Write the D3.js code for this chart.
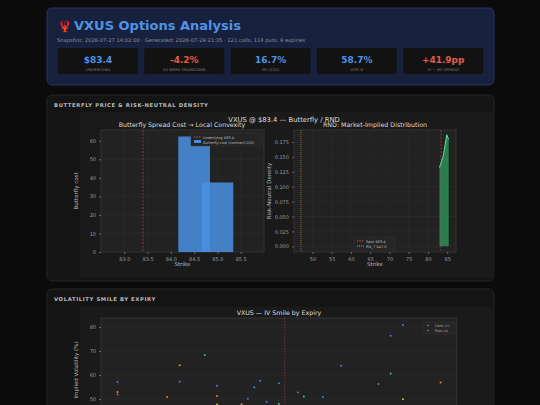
<!DOCTYPE html>
<html><head><meta charset="utf-8">
<script src="https://cdn.jsdelivr.net/npm/d3@7"></script>
<style>body{margin:0;background:#0b0b0c;font-family:"DejaVu Sans",sans-serif}</style>
</head><body><svg width="540" height="405"></svg>
<script>
const stats = [["$83.4","UNDERLYING","#4f93e6"],["-4.2%","52-WEEK DRAWDOWN","#e05a4a"],["16.7%","HV (21D)","#4f93e6"],["58.7%","ATM IV","#4f93e6"],["+41.9pp","IV − HV SPREAD","#e05a4a"]];
const flyStrikes = [84.5, 85.0];
const flyCost = [62.3, 37.5];
const rndStrike = [83.0, 84.0, 84.9, 85.4];
const rndDensity = [0.132, 0.152, 0.187, 0.179];
const smileStrike = [43.9,43.9,43.9,55.6,58.6,58.6,64.5,67.4,67.4,67.4,73.2,74.7,76.2,77.6,79.1,82.0,82.0,86.5,87.9,92.4,96.7,105.5,108.4,108.4,111.3,111.3,120.2];
const smileIV = [57.1,52.9,51.9,50.8,64.1,57.2,68.3,55.5,51.3,47.7,47.8,50.1,54.9,57.6,48.9,56.6,48.0,52.7,51.0,50.8,63.9,56.2,76.4,60.6,80.8,49.9,56.9];
const smileExp = [0,1,3,1,1,0,2,0,1,4,1,0,0,0,0,0,2,0,2,0,0,0,0,2,0,4,1];
const expColors = ["#4a7fd0","#e08a3a","#3fbf7f","#e0504a","#c8c040"];

const svg = d3.select("svg");
const grey = "#9a9a9a";

// header card
svg.append("rect").attr("x",47).attr("y",8).attr("width",447).attr("height",77).attr("rx",5)
  .attr("fill","#17213d").attr("stroke","#263560");
svg.append("text").attr("x",58).attr("y",30).attr("fill","#d9402f").attr("font-size",11).text("🦞");
svg.append("text").attr("x",74).attr("y",30).attr("fill","#4f93e6").attr("font-size",13).attr("font-weight","bold").text("VXUS Options Analysis");
svg.append("text").attr("x",57).attr("y",42).attr("fill","#8a8f9a").attr("font-size",5.2)
  .text("Snapshot: 2026-07-27 14:02:00 · Generated: 2026-07-29 21:35 · 121 calls, 114 puts, 9 expiries");
stats.forEach((s,i)=>{
  const x = 58 + i*86.3;
  svg.append("rect").attr("x",x).attr("y",48).attr("width",80).attr("height",26).attr("rx",2).attr("fill","#121212");
  svg.append("text").attr("x",x+40).attr("y",63).attr("text-anchor","middle").attr("fill",s[2]).attr("font-size",9).attr("font-weight","bold").text(s[0]);
  svg.append("text").attr("x",x+40).attr("y",70.5).attr("text-anchor","middle").attr("fill","#777").attr("font-size",3.8).text(s[1]);
});

// section cards
function card(y,h,title){
  svg.append("rect").attr("x",47).attr("y",y).attr("width",447).attr("height",h).attr("rx",5).attr("fill","#141414").attr("stroke","#262626");
  svg.append("text").attr("x",54).attr("y",y+12).attr("fill","#bbb").attr("font-size",5.3).attr("font-weight","bold").attr("letter-spacing",0.6).text(title);
}
card(95,186,"BUTTERFLY PRICE & RISK-NEUTRAL DENSITY");
card(289,140,"VOLATILITY SMILE BY EXPIRY");
svg.append("rect").attr("x",80).attr("y",112).attr("width",414).attr("height",166).attr("fill","#1a1a1a");
svg.append("rect").attr("x",80).attr("y",307).attr("width",414).attr("height",120).attr("fill","#1a1a1a");

function panel(x0,x1,y0,y1,xs,ys,xt,yt,xfmt,yfmt,xl,yl,ylY){
  const g = svg.append("g");
  g.append("rect").attr("x",x0).attr("y",y0).attr("width",x1-x0).attr("height",y1-y0).attr("fill","#222").attr("stroke","#333");
  xt.forEach(t=>g.append("line").attr("x1",xs(t)).attr("x2",xs(t)).attr("y1",y0).attr("y2",y1).attr("stroke","#2e2e2e").attr("stroke-width",0.5));
  yt.forEach(t=>g.append("line").attr("y1",ys(t)).attr("y2",ys(t)).attr("x1",x0).attr("x2",x1).attr("stroke","#2e2e2e").attr("stroke-width",0.5));
  const ax = g.append("g").attr("transform",`translate(0,${y1})`).call(d3.axisBottom(xs).tickValues(xt).tickFormat(xfmt).tickSize(2));
  const ay = g.append("g").attr("transform",`translate(${x0},0)`).call(d3.axisLeft(ys).tickValues(yt).tickFormat(yfmt).tickSize(2));
  [ax,ay].forEach(a=>{a.select(".domain").remove();a.selectAll("line").attr("stroke","#666");a.selectAll("text").attr("fill",grey).attr("font-size",5).attr("font-family","DejaVu Sans");});
  if(xl) g.append("text").attr("x",(x0+x1)/2).attr("y",y1+14).attr("text-anchor","middle").attr("fill","#bbb").attr("font-size",5.5).text(xl);
  if(yl) g.append("text").attr("transform",`translate(${x0-23},${ylY || (y0+y1)/2}) rotate(-90)`).attr("text-anchor","middle").attr("fill","#bbb").attr("font-size",5.5).text(yl);
  return g;
}

// suptitle
svg.append("text").attr("x",284).attr("y",122).attr("text-anchor","middle").attr("fill","#ddd").attr("font-size",6.8).text("VXUS @ $83.4 — Butterfly / RND");

// butterfly
const bx = d3.scaleLinear().domain([82.5,86.0]).range([101,264]);
const by = d3.scaleLinear().domain([0,65.8]).range([252,130]);
svg.append("text").attr("x",182).attr("y",127).attr("text-anchor","middle").attr("fill","#ddd").attr("font-size",6.3).text("Butterfly Spread Cost → Local Convexity");
const g1 = panel(101,264,130,252,bx,by,[83,83.5,84,84.5,85,85.5],[0,10,20,30,40,50,60],d3.format(".1f"),d3.format("d"),"Strike","Butterfly cost");
g1.selectAll(".bar").data(flyStrikes).join("rect")
  .attr("x",d=>bx(d-0.34)).attr("width",bx(0.68)-bx(0))
  .attr("y",(d,i)=>by(flyCost[i])).attr("height",(d,i)=>by(0)-by(flyCost[i]))
  .attr("fill","#4a90e2").attr("fill-opacity",0.85);
g1.append("line").attr("x1",bx(83.4)).attr("x2",bx(83.4)).attr("y1",130).attr("y2",252).attr("stroke","#c0504a").attr("stroke-dasharray","2,1.5").attr("stroke-width",0.6);
g1.append("rect").attr("x",191).attr("y",133).attr("width",70).attr("height",13).attr("fill","#252525").attr("stroke","#3a3a3a").attr("stroke-width",0.4);
g1.append("line").attr("x1",194).attr("x2",201).attr("y1",137).attr("y2",137).attr("stroke","#c0504a").attr("stroke-dasharray","1.5,1");
g1.append("rect").attr("x",194).attr("y",140).attr("width",7).attr("height",3).attr("fill","#4a90e2");
g1.append("text").attr("x",203).attr("y",138.5).attr("fill","#bbb").attr("font-size",3.6).text("Underlying $83.4");
g1.append("text").attr("x",203).attr("y",143.5).attr("fill","#bbb").attr("font-size",3.6).text("Butterfly cost (contract/100)");

// RND
const rx = d3.scaleLinear().domain([45.2,87.3]).range([294,456]);
const ry = d3.scaleLinear().domain([-0.0095,0.195]).range([252,130]);
svg.append("text").attr("x",375).attr("y",127).attr("text-anchor","middle").attr("fill","#ddd").attr("font-size",6.3).text("RND: Market-Implied Distribution");
const g2 = panel(294,456,130,252,rx,ry,[50,55,60,65,70,75,80,85],[0,0.025,0.05,0.075,0.1,0.125,0.15,0.175],d3.format("d"),d3.format(".3f"),"Strike","Risk-Neutral Density");
const rnd = rndStrike.map((s,i)=>[s,rndDensity[i]]);
g2.append("path").datum(rnd).attr("d",d3.area().x(d=>rx(d[0])).y0(ry(0)).y1(d=>ry(d[1]))).attr("fill","#2e9e5e").attr("fill-opacity",0.75);
g2.append("path").datum(rnd).attr("d",d3.line().x(d=>rx(d[0])).y(d=>ry(d[1]))).attr("fill","none").attr("stroke","#5fe0a0").attr("stroke-width",1);
g2.append("line").attr("x1",rx(83.4)).attr("x2",rx(83.4)).attr("y1",130).attr("y2",252).attr("stroke","#c0504a").attr("stroke-dasharray","2,1.5").attr("stroke-width",0.6);
g2.append("line").attr("x1",rx(47.0)).attr("x2",rx(47.0)).attr("y1",130).attr("y2",252).attr("stroke","#d0a040").attr("stroke-dasharray","1,1").attr("stroke-width",0.6);
g2.append("rect").attr("x",354).attr("y",237).attr("width",41).attr("height",13).attr("fill","#252525").attr("stroke","#3a3a3a").attr("stroke-width",0.4);
g2.append("line").attr("x1",357).attr("x2",364).attr("y1",241).attr("y2",241).attr("stroke","#c0504a").attr("stroke-dasharray","1.5,1");
g2.append("line").attr("x1",357).attr("x2",364).attr("y1",246).attr("y2",246).attr("stroke","#d0a040").attr("stroke-dasharray","1,1");
g2.append("text").attr("x",366).attr("y",242.5).attr("fill","#bbb").attr("font-size",3.6).text("Spot $83.4");
g2.append("text").attr("x",366).attr("y",247.5).attr("fill","#bbb").attr("font-size",3.6).text("RN_T $47.0");

// smile
const sx = d3.scaleLinear().domain([40,124]).range([101,456.7]);
const sy = d3.scaleLinear().domain([20,82.5]).range([471,321]);
svg.append("text").attr("x",279).attr("y",315).attr("text-anchor","middle").attr("fill","#ddd").attr("font-size",6.3).text("VXUS — IV Smile by Expiry");
const g3 = panel(101,456.7,318,480,sx,sy,[],[30,40,50,60,70,80],d3.format("d"),d3.format("d"),null,"Implied Volatility (%)",370);
g3.append("line").attr("x1",sx(83.4)).attr("x2",sx(83.4)).attr("y1",318).attr("y2",480).attr("stroke","#c0504a").attr("stroke-dasharray","1.5,1.5").attr("stroke-width",0.5);
g3.selectAll(".pt").data(smileStrike).join("circle")
  .attr("cx",d=>sx(d)).attr("cy",(d,i)=>sy(smileIV[i])).attr("r",1)
  .attr("fill",(d,i)=>expColors[smileExp[i]]);
g3.append("rect").attr("x",423).attr("y",322).attr("width",32).attr("height",12).attr("fill","#252525").attr("stroke","#3a3a3a").attr("stroke-width",0.4);
g3.append("circle").attr("cx",428).attr("cy",325.5).attr("r",0.8).attr("fill",grey);
g3.append("circle").attr("cx",428).attr("cy",330.5).attr("r",0.8).attr("fill",grey);
g3.append("text").attr("x",435).attr("y",327).attr("fill","#bbb").attr("font-size",3.4).text("Calls (+)");
g3.append("text").attr("x",435).attr("y",332).attr("fill","#bbb").attr("font-size",3.4).text("Puts (x)");
</script></body></html>
